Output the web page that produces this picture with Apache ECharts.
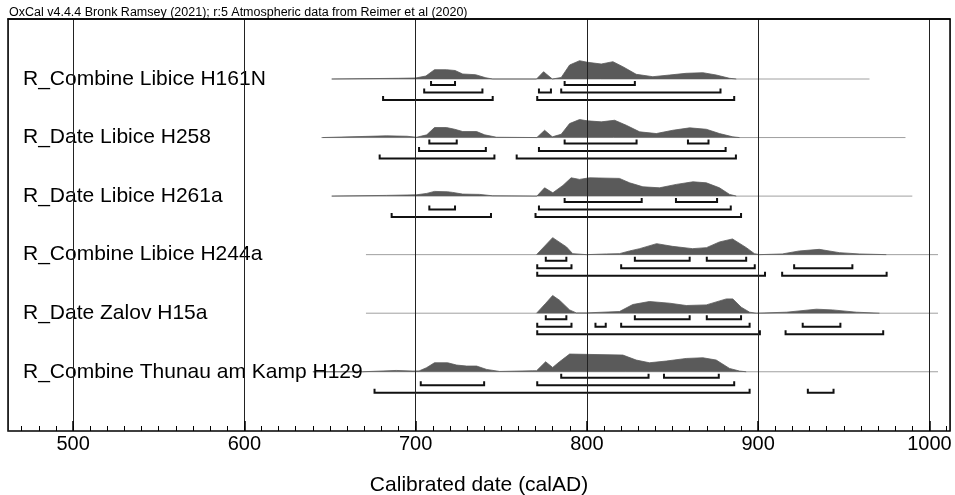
<!DOCTYPE html>
<html>
<head>
<meta charset="utf-8">
<title>OxCal multiplot</title>
<script src="https://cdn.jsdelivr.net/npm/echarts@6/dist/echarts.min.js"></script>
<style>
  html, body { margin: 0; padding: 0; background: #fff; }
  #chart { width: 955px; height: 495px; }
</style>
</head>
<body>
<div id="chart"></div>
<script>
const header = 'OxCal v4.4.4 Bronk Ramsey (2021); r:5 Atmospheric data from Reimer et al (2020)'
const axisTitle = 'Calibrated date (calAD)'
const majorTicks = [500, 600, 700, 800, 900, 1000]

const rowNames = [
  'R_Combine Libice H161N',
  'R_Date Libice H258',
  'R_Date Libice H261a',
  'R_Combine Libice H244a',
  'R_Date Zalov H15a',
  'R_Combine Thunau am Kamp H129'
]

// extent of the grey base line of each row (calAD)
const rowSpans = [[651, 965], [645, 986], [651, 990], [671, 1005], [671, 1005], [640, 1005]]

// probability curves, [calAD, relative height]
const probH161N = [[651,0],[690,0.7],[700,1],[706,3],[711,9.3],[718,9.3],[723,8.5],[727.5,5],[735,4.3],[741,1.2],[745,0],
  [770.6,0],[774.7,7.3],[779.8,0],[785,1.5],[789.9,14],[795.7,18.3],[800.4,16.7],[808.4,15],[815.2,17.3],[821,12.3],
  [828.8,4.7],[838.5,2.3],[848.3,4],[858,5.7],[867.7,6.3],[875.5,4],[883.3,0.7],[887.2,0]]
const probH258 = [[645.6,0],[683,1.7],[695,1.3],[700.6,0.3],[706.5,2.7],[711,10],[718,10],[722.8,8.3],[727.5,6],[735.6,6],
  [740.3,2.7],[747.3,0.3],[770.8,0],[775.3,7.3],[779.8,0.7],[785,3.3],[789.9,14],[795.7,18],[800.4,16.7],[808.4,15.7],
  [816.2,17.3],[823,12.3],[830.8,5.7],[840.5,4],[850.2,7.3],[860,9.7],[869.7,8.3],[877.4,4],[885.2,0.7],[889.1,0]]
const probH261a = [[651,0],[683,0.7],[700.6,1.3],[706.5,2.7],[711,4.7],[718.7,4.3],[721.6,3.7],[727.5,2],[737.4,1.7],[745,0.3],
  [770.8,0],[775.3,8.3],[780.1,3.3],[786,10.7],[790.8,18.3],[795.7,16.7],[801.5,18.3],[819,17.7],[824.9,13.3],[832.7,9.3],
  [842.4,8.3],[852.2,11.7],[861.9,14.3],[869.7,13.3],[877.4,8.3],[883.3,1.7],[887.2,0]]
const probH244a = [[770.6,0],[780,17],[788.1,7.7],[791.7,1],[799.8,0],[811.5,0.7],[819,1],[824.9,3.7],[830.8,6],[840.7,11],
  [850,8.3],[861.7,6],[869.8,7],[877.4,12.7],[885,15.7],[893.1,7],[897.8,1],[900.7,0],[914.1,0.7],[924,3.7],[935.7,5.3],
  [947.4,2],[959,0.7],[974.8,0]]
const probH15a = [[770.6,0],[776,10],[780,17.7],[784,13],[789.9,3.3],[793.8,0.3],[799.6,0.3],[819,1.7],[826.8,8.7],[836.5,11.7],
  [848.3,10],[858,7.7],[869.7,8.3],[881.4,14.3],[885.2,14.3],[890.1,6],[895,1],[898.9,0],[916.5,1],[934,4],[943.4,3.3],
  [957.4,1],[970.8,0]]
const probH129 = [[640,0],[669,0],[688.7,1.3],[698.4,0.7],[702,0.8],[706.3,4],[711,9],[718.7,9],[723.9,6.7],[729.8,5.7],
  [735.6,5.7],[741.5,2.3],[749.1,0.3],[768.4,1],[770.6,1],[775.9,10],[780,4.3],[784,10],[789.9,17.7],[821,16.7],[828.8,11.7],
  [836.5,9],[846.3,10.7],[858,13.3],[867.7,14],[875.5,11.7],[883.3,3.3],[889.1,0.7],[893,0]]

// highest posterior density ranges, [level (68.3 / 95.4 / 99.7), from, to]
const hpdH161N = [[0,709,723],[0,787,828],[1,705,739],[1,772,779],[1,785,878],[2,681,745],[2,771,886]]
const hpdH258 = [[0,708,724],[0,787,829],[0,859,871],[1,702,741],[1,772,881],[2,679,746],[2,759,887]]
const hpdH261a = [[0,787,832],[0,852,876],[1,708,723],[1,772,884],[2,686,744],[2,770,890]]
const hpdH244a = [[0,776,788],[0,828,860],[0,870,893],[1,771,791],[1,820,898],[1,921,955],[2,771,904],[2,914,975]]
const hpdH15a = [[0,776,788],[0,828,860],[0,870,890],[1,771,791],[1,805,811],[1,820,895],[1,926,948],[2,771,901],[2,916,973]]
const hpdH129 = [[0,785,836],[0,845,877],[1,703,740],[1,771,886],[2,676,895],[2,929,944]]

const probs = [probH161N, probH258, probH261a, probH244a, probH15a, probH129]
const hpds = [hpdH161N, hpdH258, hpdH261a, hpdH244a, hpdH15a, hpdH129]

const X_MIN = 462
const X_MAX = 1012
const FONT = 'Liberation Sans, Arial, sans-serif'
const rowBase = i => 60 + i * 58.55   // y axis runs 0..412 top to bottom
const LEVEL_GAP = [6, 13.5, 21]

const minorTicks = []
for (let v = 470; v <= 1010; v += 10) minorTicks.push(v)

const series = []

rowSpans.forEach((span, i) => {
  series.push({
    type: 'line',
    data: [[span[0], rowBase(i)], [span[1], rowBase(i)]],
    symbol: 'none',
    lineStyle: { color: '#a0a0a0', width: 1 },
    z: 1,
    silent: true
  })
})

probs.forEach((p, i) => {
  const base = rowBase(i)
  series.push({
    type: 'line',
    data: p.map(d => [d[0], base - d[1]]),
    symbol: 'none',
    lineStyle: { color: '#5a5a5a', width: 0.8 },
    areaStyle: { color: '#5a5a5a', opacity: 1, origin: base },
    z: 2,
    silent: true
  })
})

const bracketData = []
hpds.forEach((list, i) => list.forEach(r => bracketData.push([i, r[0], r[1], r[2]])))

series.push({
  type: 'custom',
  data: bracketData,
  encode: { x: [2, 3], y: 0 },
  z: 3,
  silent: true,
  renderItem: (params, api) => {
    const row = api.value(0)
    const a = api.coord([api.value(2), rowBase(row)])
    const b = api.coord([api.value(3), rowBase(row)])
    const y = a[1] + LEVEL_GAP[api.value(1)]
    return {
      type: 'polyline',
      shape: { points: [[a[0], y - 4], [a[0], y], [b[0], y], [b[0], y - 4]] },
      style: { stroke: '#111', lineWidth: 2, fill: null }
    }
  }
})

series.push({
  type: 'custom',
  data: rowNames.map((n, i) => [X_MIN, i]),
  encode: { x: 0, y: 1 },
  z: 4,
  silent: true,
  renderItem: (params, api) => {
    const i = api.value(1)
    const p = api.coord([X_MIN, rowBase(i)])
    return {
      type: 'text',
      x: p[0] + 15,
      y: p[1],
      style: {
        text: rowNames[i],
        fontSize: 21,
        fontFamily: FONT,
        fill: '#000',
        align: 'left',
        verticalAlign: 'middle'
      }
    }
  }
})

const chart = echarts.init(document.getElementById('chart'))
chart.setOption({
  animation: false,
  backgroundColor: '#fff',
  title: {
    text: header,
    left: 9,
    top: 6,
    padding: 0,
    textStyle: { fontSize: 12.5, fontWeight: 'normal', color: '#000', fontFamily: FONT }
  },
  grid: {
    left: 8, right: 5, top: 19, bottom: 64,
    outerBoundsMode: 'none',
    containLabel: false,
    show: true, borderColor: '#000', borderWidth: 1.5
  },
  xAxis: [
    {
      type: 'value',
      min: X_MIN,
      max: X_MAX,
      position: 'bottom',
      z: 5,
      name: axisTitle,
      nameLocation: 'middle',
      nameGap: 44,
      nameTextStyle: { fontSize: 21, color: '#000', fontFamily: FONT },
      axisLine: { lineStyle: { color: '#000', width: 1.5 } },
      axisTick: { show: false },
      axisLabel: { customValues: majorTicks, margin: 3, fontSize: 20, color: '#000', fontFamily: FONT, formatter: v => String(v) },
      splitLine: { show: true, lineStyle: { color: '#222', width: 1 } }
    },
    {
      type: 'value',
      min: X_MIN,
      max: X_MAX,
      position: 'bottom',
      offset: 0,
      z: 5,
      axisLine: { show: false },
      axisTick: { inside: true, length: 5, customValues: minorTicks, lineStyle: { color: '#000', width: 1 } },
      axisLabel: { show: false },
      splitLine: { show: false }
    },
    {
      type: 'value',
      min: X_MIN,
      max: X_MAX,
      position: 'bottom',
      offset: 0,
      z: 5,
      axisLine: { show: false },
      axisTick: { inside: true, length: 10, customValues: majorTicks, lineStyle: { color: '#000', width: 1.5 } },
      axisLabel: { show: false },
      splitLine: { show: false }
    }
  ],
  yAxis: { type: 'value', min: 0, max: 412, inverse: true, show: false },
  series: series
})
</script>
</body>
</html>
